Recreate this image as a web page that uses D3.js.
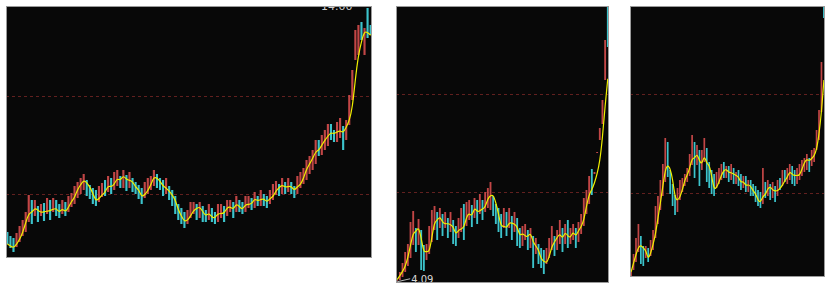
<!DOCTYPE html>
<html>
<head>
<meta charset="utf-8">
<script src="https://cdn.jsdelivr.net/npm/d3@7"></script>
<style>
body { margin: 0; background: #fff; }
svg { display: block; }
</style>
</head>
<body>
<script>
// daily candles, three panels (prices)
var opens1 = [5.04,4.88,4.80,4.44,4.64,4.88,5.04,5.44,6.32,5.68,
  6.08,5.68,6.20,5.76,6.32,5.84,6.32,6.16,5.76,6.24,
  5.84,6.04,6.16,6.40,6.56,6.72,7.12,6.92,6.80,6.72,
  6.24,6.44,7.12,6.64,7.20,6.72,6.88,7.28,6.80,7.32,
  6.80,7.20,7.04,6.92,6.80,6.40,6.56,6.72,6.88,7.36,
  7.20,7.12,6.56,6.88,6.72,6.48,6.16,6.00,5.84,5.36,
  5.60,5.76,6.16,5.60,6.08,5.92,5.52,6.00,5.84,5.44,
  5.60,6.08,5.68,5.84,6.24,5.84,6.32,6.24,5.84,6.00,
  6.40,6.00,6.48,6.08,6.56,6.48,6.16,6.32,6.52,6.96,
  6.56,7.04,6.64,7.04,6.88,6.56,6.80,6.96,7.12,7.36,
  7.52,7.76,8.72,8.12,8.32,8.48,9.36,9.12,8.64,8.80,
  9.28,8.72,9.32,10.32,11.92,12.12,13.44,12.12,14.00,13.32];
var closes1 = [4.56,4.40,4.24,5.00,5.28,5.52,5.84,6.52,5.36,6.32,
  5.44,6.16,5.48,6.40,5.52,6.40,5.68,5.60,6.32,5.68,
  6.48,6.60,6.88,7.04,7.20,7.36,6.48,6.36,6.16,6.08,
  6.88,7.00,6.48,7.28,6.56,7.44,7.52,6.80,7.52,6.68,
  7.44,6.64,6.56,6.36,6.16,7.04,7.20,7.28,7.52,6.80,
  6.72,6.48,7.20,6.32,6.08,5.76,5.52,5.36,5.20,5.92,
  6.24,6.24,5.52,6.24,5.44,5.44,6.16,5.44,5.36,6.16,
  6.16,5.44,6.32,6.32,5.60,6.48,5.84,5.76,6.48,6.48,
  5.92,6.64,6.08,6.72,6.08,6.00,6.72,6.96,7.08,6.48,
  7.20,6.56,7.20,6.56,6.40,7.28,7.44,7.60,7.92,8.08,
  8.32,8.72,8.08,8.92,9.12,9.36,8.72,8.64,9.44,9.60,
  8.32,9.52,10.52,11.52,13.12,13.32,12.72,13.20,12.80,12.92];

var opens2 = [4.09,4.12,4.24,4.44,4.68,5.00,5.52,6.20,5.52,6.12,
  5.52,4.92,5.16,5.64,6.12,6.84,6.20,6.76,6.20,6.60,
  6.04,6.52,6.28,5.80,6.04,7.16,6.28,6.52,7.12,6.60,
  7.32,6.76,7.32,6.84,7.00,6.92,7.48,7.16,7.00,6.76,
  6.20,6.84,6.20,6.68,6.04,6.60,6.20,5.48,5.72,6.12,
  5.40,5.88,5.16,5.56,5.40,5.32,4.76,5.00,5.32,5.88,
  5.32,5.56,6.20,5.56,6.52,5.56,5.72,6.20,5.64,5.96,
  6.28,6.76,7.16,8.56,8.36,9.20,9.72,10.36,12.12,15.08];
var closes2 = [4.14,4.44,4.80,5.24,5.56,6.44,6.88,5.24,6.56,4.52,
  4.48,5.56,6.28,6.92,7.08,5.72,7.00,5.88,6.84,5.80,
  6.84,5.56,5.48,6.60,7.00,5.72,7.24,7.32,6.24,7.40,
  6.36,7.56,6.52,7.64,7.80,8.04,6.68,6.36,6.04,5.80,
  7.00,5.88,7.00,5.72,6.84,5.48,5.40,6.28,6.36,5.32,
  6.20,4.60,5.80,4.76,4.60,4.36,5.40,5.80,6.28,5.08,
  6.12,6.52,5.24,6.36,5.40,6.20,6.36,5.40,6.44,6.76,
  7.40,7.72,8.28,7.52,8.44,9.24,10.20,11.32,13.72,13.44];

var opens3 = [4.04,4.28,4.60,5.00,5.64,5.24,4.76,5.16,4.84,5.08,
  5.56,6.12,6.68,7.24,7.80,9.40,8.28,7.72,7.28,6.60,
  7.08,7.40,7.64,7.80,8.04,8.48,9.40,8.48,9.08,8.28,
  8.60,9.16,8.60,8.28,8.12,7.56,7.72,7.88,8.60,7.96,
  8.44,7.88,8.36,7.72,8.28,8.12,7.56,8.04,7.40,7.88,
  7.72,7.64,7.48,7.40,6.92,7.80,7.24,7.72,7.16,7.64,
  7.24,7.96,7.64,8.28,7.72,7.88,8.44,8.28,7.72,7.88,
  8.04,8.20,8.28,8.76,8.44,8.60,9.08,9.48,10.60,14.84];
var closes3 = [4.20,4.92,5.56,6.12,4.52,4.44,5.24,4.60,5.48,5.88,
  6.84,7.24,7.88,8.52,9.56,8.00,7.32,6.84,6.48,7.56,
  7.88,7.96,8.12,8.36,8.92,9.68,7.96,9.28,7.64,9.08,
  9.56,7.80,7.56,7.32,7.24,8.20,8.36,8.52,7.96,8.44,
  7.80,8.52,7.72,8.20,7.64,7.48,8.04,7.40,7.88,7.24,
  7.24,7.00,6.84,6.76,8.36,7.16,7.88,7.08,7.80,7.00,
  7.88,7.48,8.28,7.80,8.36,8.52,7.72,7.64,8.36,8.52,
  8.68,8.76,8.92,8.20,9.08,9.16,9.88,10.68,12.60,14.36];

// dashed reference levels for each panel
var grid1 = [10.48, 6.56];
var grid2 = [11.56, 7.64];
var grid3 = [11.32, 7.36];

var maDays = 4;

var panels = [
  {x0: 6,   x1: 372, y0: 6, y1: 258, lo: 4.00, hi: 14.08, opens: opens1, closes: closes1, grid: grid1, label: "max"},
  {x0: 396, x1: 609, y0: 6, y1: 283, lo: 4.00, hi: 15.08, opens: opens2, closes: closes2, grid: grid2, label: "min"},
  {x0: 630, x1: 825, y0: 6, y1: 277, lo: 4.00, hi: 14.84, opens: opens3, closes: closes3, grid: grid3, label: null}
];

var svg = d3.select("body").append("svg")
  .attr("width", 826)
  .attr("height", 285);

svg.append("rect").attr("width", 826).attr("height", 285).attr("fill", "#fff");

panels.forEach(function(p, k) {
  var n = p.closes.length;
  var x = d3.scaleBand().domain(d3.range(n)).range([p.x0, p.x1]).paddingInner(0.3).paddingOuter(0.1);
  var y = d3.scaleLinear().domain([p.lo, p.hi]).range([p.y1, p.y0]);

  var clipId = "clip" + k;
  svg.append("clipPath").attr("id", clipId)
    .append("rect")
    .attr("x", p.x0).attr("y", p.y0)
    .attr("width", p.x1 - p.x0).attr("height", p.y1 - p.y0);

  svg.append("rect")
    .attr("x", p.x0).attr("y", p.y0)
    .attr("width", p.x1 - p.x0).attr("height", p.y1 - p.y0)
    .attr("fill", "#080808");

  var g = svg.append("g").attr("clip-path", "url(#" + clipId + ")");

  g.selectAll("line.grid")
    .data(p.grid)
    .enter().append("line")
    .attr("class", "grid")
    .attr("x1", p.x0).attr("x2", p.x1)
    .attr("y1", function(d) { return Math.round(y(d)) + 0.5; })
    .attr("y2", function(d) { return Math.round(y(d)) + 0.5; })
    .attr("stroke", "#62201f")
    .attr("stroke-dasharray", "3,3");

  var candles = d3.range(n).map(function(i) {
    return {i: i, o: p.opens[i], c: p.closes[i]};
  });

  var bw = Math.max(1.6, x.bandwidth());
  g.selectAll("rect.candle")
    .data(candles)
    .enter().append("rect")
    .attr("class", "candle")
    .attr("x", function(d) { return x(d.i) + (x.bandwidth() - bw) / 2; })
    .attr("width", bw)
    .attr("y", function(d) { return y(Math.max(d.o, d.c)); })
    .attr("height", function(d) { return Math.max(1, Math.abs(y(d.o) - y(d.c))); })
    .attr("fill", function(d) { return d.c >= d.o ? "#c24646" : "#3cc4cc"; });

  // moving average of closes
  var ma = candles.map(function(d) {
    var s = p.closes.slice(Math.max(0, d.i - maDays + 1), d.i + 1);
    return {i: d.i, v: d3.mean(s)};
  });
  var line = d3.line()
    .x(function(d) { return x(d.i) + x.bandwidth() / 2; })
    .y(function(d) { return y(d.v); })
    .curve(d3.curveBasis);
  g.append("path")
    .datum(ma)
    .attr("d", line)
    .attr("fill", "none")
    .attr("stroke", "#f0f000")
    .attr("stroke-width", 1.2);

  if (p.label == "max") {
    var hiV = d3.max(candles, function(d) { return Math.max(d.o, d.c); });
    var hiI = candles.filter(function(d) { return Math.max(d.o, d.c) == hiV; })[0].i;
    g.append("text")
      .attr("x", x(hiI) - 14)
      .attr("y", y(hiV) + 2)
      .attr("text-anchor", "end")
      .attr("font-family", "DejaVu Sans, sans-serif")
      .attr("font-size", 11)
      .attr("fill", "#cfcfcf")
      .text(hiV.toFixed(2));
  }
  if (p.label == "min") {
    var loV = d3.min(candles, function(d) { return Math.min(d.o, d.c); });
    var loI = candles.filter(function(d) { return Math.min(d.o, d.c) == loV; })[0].i;
    var lx = x(loI) + x.bandwidth() / 2, ly = y(loV);
    g.append("line")
      .attr("x1", lx).attr("y1", ly + 1)
      .attr("x2", lx + 13).attr("y2", ly - 2)
      .attr("stroke", "#bbbbbb").attr("stroke-width", 1);
    g.append("text")
      .attr("x", lx + 14)
      .attr("y", ly + 2)
      .attr("font-family", "DejaVu Sans, sans-serif")
      .attr("font-size", 10)
      .attr("fill", "#d8d8d8")
      .text(loV.toFixed(2));
  }

  svg.append("rect")
    .attr("x", p.x0 + 0.5).attr("y", p.y0 + 0.5)
    .attr("width", p.x1 - p.x0 - 1).attr("height", p.y1 - p.y0 - 1)
    .attr("fill", "none")
    .attr("stroke", "#9a9a9a");
});
</script>
</body>
</html>
